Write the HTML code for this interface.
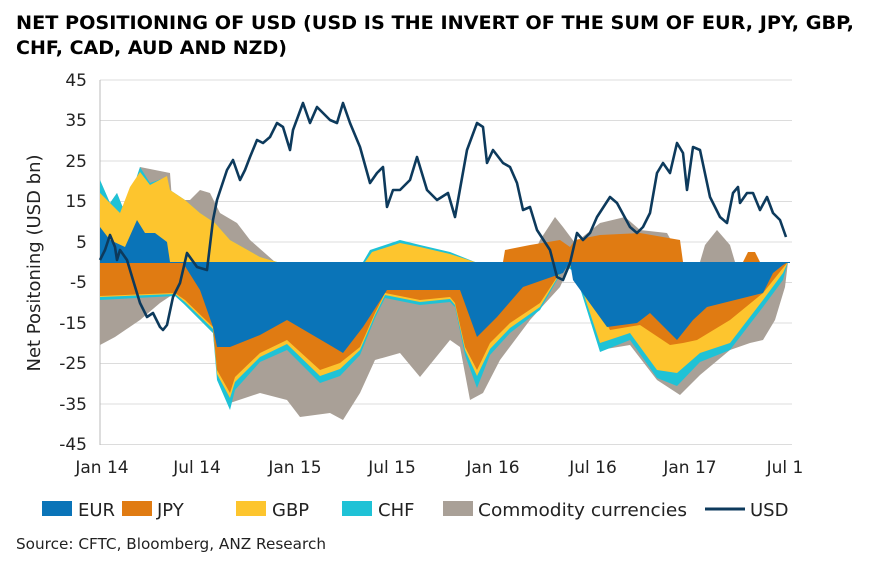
<!DOCTYPE html>
<html><head><meta charset="utf-8"><style>
body{margin:0;background:#fff;font-family:"DejaVu Sans","Liberation Sans",sans-serif}
</style></head><body>
<svg width="874" height="566" viewBox="0 0 874 566" xmlns="http://www.w3.org/2000/svg" font-family="DejaVu Sans, Liberation Sans, sans-serif">
<rect width="874" height="566" fill="#fff"/>
<text x="16" y="29" font-size="19" font-weight="bold" fill="#000" textLength="838" lengthAdjust="spacingAndGlyphs">NET POSITIONING OF USD (USD IS THE INVERT OF THE SUM OF EUR, JPY, GBP,</text>
<text x="16" y="54" font-size="19" font-weight="bold" fill="#000">CHF, CAD, AUD AND NZD)</text>
<g stroke="#dcdcdc" stroke-width="1">
<line x1="100" y1="80" x2="792" y2="80"/><line x1="100" y1="120.5" x2="792" y2="120.5"/><line x1="100" y1="161" x2="792" y2="161"/><line x1="100" y1="201.5" x2="792" y2="201.5"/><line x1="100" y1="242" x2="792" y2="242"/><line x1="100" y1="282.5" x2="792" y2="282.5"/><line x1="100" y1="323" x2="792" y2="323"/><line x1="100" y1="363.5" x2="792" y2="363.5"/><line x1="100" y1="404" x2="792" y2="404"/><line x1="100" y1="444.5" x2="792" y2="444.5"/>
</g>
<line x1="100" y1="80" x2="100" y2="445" stroke="#bbb"/>
<g font-size="17" fill="#222" text-anchor="end">
<text x="87" y="86">45</text><text x="87" y="126">35</text><text x="87" y="167">25</text><text x="87" y="207">15</text><text x="87" y="248">5</text><text x="87" y="288">-5</text><text x="87" y="329">-15</text><text x="87" y="369">-25</text><text x="87" y="410">-35</text><text x="87" y="450">-45</text>
</g>
<text transform="translate(40,263) rotate(-90)" font-size="18" fill="#222" text-anchor="middle">Net Positoning (USD bn)</text>
<g font-size="17" fill="#222" text-anchor="middle">
<text x="102" y="473">Jan 14</text><text x="197" y="473">Jul 14</text><text x="295" y="473">Jan 15</text><text x="392" y="473">Jul 15</text><text x="493" y="473">Jan 16</text><text x="593" y="473">Jul 16</text><text x="690" y="473">Jan 17</text><text x="785" y="473">Jul 1</text>
</g>
<polygon fill="#a9a097" points="100,262 100,345 115,337 140,320 160,303 175,293 185,305 213,333 218,380 230,403 260,393 287,400 300,417 330,413 343,420 360,393 375,360 400,353 420,377 450,340 460,347 470,400 483,393 500,360 530,320 560,287 570,265 575,268 600,350 630,345 657,380 680,395 700,375 730,350 750,343 763,340 775,320 785,287 788,262"/>
<polygon fill="#1fc2d6" points="100,262 100,300 175,296 185,305 213,333 217,380 230,410 235,390 260,362 287,350 320,383 340,376 360,355 375,318 385,298 420,305 450,302 455,307 465,355 477,388 490,355 510,333 540,310 565,266 575,272 600,352 630,340 657,378 677,386 700,362 730,350 763,307 783,280 788,262"/>
<polygon fill="#fdc52e" points="100,262 100,297 175,294 185,302 213,329 217,374 230,398 235,382 260,357 287,344 320,376 340,369 360,350 375,315 385,295 420,302 450,299 455,305 465,350 477,376 490,349 510,328 540,307 565,265 575,268 600,343 630,333 657,370 677,373 700,353 730,343 763,300 783,273 788,262"/>
<polygon fill="#e07b12" points="100,262 100,296 175,293 185,300 213,327 217,370 230,393 235,377 260,353 287,340 320,370 340,363 360,347 375,313 385,293 420,300 450,297 455,303 465,347 477,370 490,343 510,323 540,303 565,265 575,265 610,330 640,325 670,345 683,343 697,340 730,320 763,293 783,268 788,262"/>
<polygon fill="#0a74b8" points="100,262 183,263 200,290 213,327 217,347 230,347 260,335 287,320 333,347 343,353 363,327 387,290 430,290 460,290 477,337 497,317 523,287 563,273 570,262 573,280 607,327 637,323 650,313 677,340 693,320 707,307 763,293 773,273 783,265 788,262"/>
<polygon fill="#a9a097" points="100,262 100,180 110,203 117,193 125,213 140,167 155,170 170,173 172,200 190,200 200,190 210,193 220,213 237,223 250,240 275,262"/>
<polygon fill="#a9a097" points="530,262 540,240 555,217 563,227 575,243 600,223 625,217 640,230 667,233 683,262"/>
<polygon fill="#a9a097" points="700,262 705,245 717,230 730,245 735,262"/>
<polygon fill="#1fc2d6" points="100,262 100,180 110,203 117,193 125,213 140,167 150,183 167,177 170,190 185,200 200,213 215,223 230,240 260,257 277,262"/>
<polygon fill="#fdc52e" points="100,262 100,193 110,203 120,213 130,187 140,172 150,185 167,176 170,190 185,200 200,213 215,223 230,240 260,257 277,262"/>
<polygon fill="#1fc2d6" points="363,262 370,250 400,240 420,245 450,252 475,262"/>
<polygon fill="#fdc52e" points="365,262 372,252 400,243 420,247 450,254 475,262"/>
<polygon fill="#e07b12" points="503,262 505,250 530,245 560,240 570,247 575,240 600,235 640,233 680,240 683,262"/>
<polygon fill="#e07b12" points="743,262 748,252 755,252 760,262"/>
<polygon fill="#0a74b8" points="100,262 100,227 110,240 125,247 137,220 145,233 155,233 167,242 170,262"/>
<line x1="100" y1="262.5" x2="790" y2="262.5" stroke="#0a74b8" stroke-width="1"/>
<polyline fill="none" stroke="#0d3a5c" stroke-width="2.6" stroke-linejoin="round" points="100,260 105,250 110,235 115,247 117,260 120,250 127,260 133,280 140,303 147,317 153,313 160,327 163,330 167,325 173,297 180,283 187,253 197,267 207,270 213,220 217,200 227,170 233,160 240,180 245,170 250,157 257,140 263,143 270,137 277,123 283,127 290,150 293,130 303,103 310,123 317,107 330,120 337,123 343,103 350,123 360,147 370,183 377,173 383,167 387,207 393,190 400,190 410,180 417,157 427,190 437,200 448,193 455,217 467,150 477,123 483,127 487,163 493,150 503,163 510,167 517,183 523,210 530,207 537,230 550,250 557,277 563,280 570,263 577,233 583,240 590,233 597,217 610,197 617,203 630,227 637,233 643,227 650,213 657,173 663,163 670,173 677,143 683,153 687,190 693,147 700,150 710,197 720,217 727,223 733,193 738,187 740,203 747,193 753,193 760,210 767,197 773,213 780,220 786,237"/>
<g font-size="18" fill="#222">
<rect x="42" y="501" width="30" height="15" fill="#0a74b8"/><text x="78" y="516">EUR</text>
<rect x="122" y="501" width="30" height="15" fill="#e07b12"/><text x="157" y="516">JPY</text>
<rect x="236" y="501" width="30" height="15" fill="#fdc52e"/><text x="272" y="516">GBP</text>
<rect x="342" y="501" width="30" height="15" fill="#1fc2d6"/><text x="378" y="516">CHF</text>
<rect x="443" y="501" width="30" height="15" fill="#a9a097"/><text x="478" y="516" textLength="209" lengthAdjust="spacingAndGlyphs">Commodity currencies</text>
<line x1="705" y1="509" x2="745" y2="509" stroke="#0d3a5c" stroke-width="3"/><text x="750" y="516">USD</text>
</g>
<text x="16" y="549" font-size="15" fill="#222" textLength="310" lengthAdjust="spacingAndGlyphs">Source: CFTC, Bloomberg, ANZ Research</text>
</svg>
</body></html>
